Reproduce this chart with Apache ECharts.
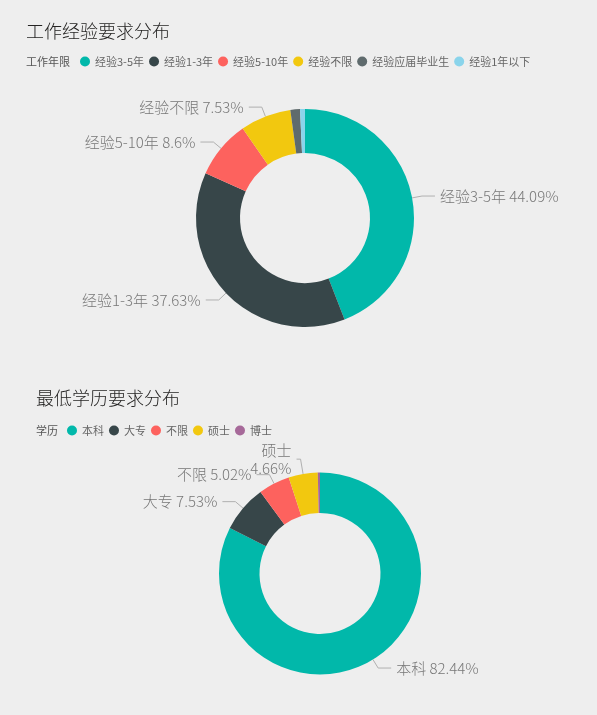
<!DOCTYPE html>
<html>
<head>
<meta charset="utf-8">
<script src="https://cdn.jsdelivr.net/npm/echarts@6/dist/echarts.min.js"></script>
<style>
html,body{margin:0;padding:0;background:#eeeeee;}
#main{width:597px;height:715px;}
</style>
</head>
<body>
<div id="main"></div>
<script>
const expNames = ['经验3-5年', '经验1-3年', '经验5-10年', '经验不限', '经验应届毕业生', '经验1年以下'];
const expValues = [44.09, 37.63, 8.6, 7.53, 1.42, 0.73];
const expColors = ['#01B8AA', '#374649', '#FD625E', '#F2C80F', '#5F6B6D', '#8AD4EB'];
const expNoLabel = ['经验应届毕业生', '经验1年以下'];

const eduNames = ['本科', '大专', '不限', '硕士', '博士'];
const eduValues = [82.44, 7.53, 5.02, 4.66, 0.35];
const eduColors = ['#01B8AA', '#374649', '#FD625E', '#F2C80F', '#A66999'];
const eduNoLabel = ['博士'];
const eduWrapLabel = ['硕士'];

const FONT = '"Noto Sans CJK SC", "Noto Sans", sans-serif';

function buildData(names, values, colors, noLabel, wrap) {
  return names.map((n, i) => {
    const d = { name: n, value: values[i], itemStyle: { color: colors[i] } };
    if (noLabel.indexOf(n) >= 0) {
      d.label = { show: false };
      d.labelLine = { show: false };
    }
    if (wrap && wrap.indexOf(n) >= 0) {
      d.label = { show: true, lineHeight: 18 };
      d.labelLine = { show: true, length: 15, length2: 4 };
    }
    return d;
  });
}

function makeLabel(wrap) {
  return {
    show: true,
    formatter: p => p.name + ((wrap && wrap.indexOf(p.name) >= 0) ? '\n' : ' ') + p.value + '%',
    fontFamily: FONT,
    fontSize: 15,
    fontWeight: 300,
    color: '#777777',
    distanceToLabelLine: 5
  };
}
const labelLineStyle = {
  show: true,
  length: 10,
  length2: 13,
  smooth: false,
  lineStyle: { color: '#b0b0b0', width: 1 }
};

const chart = echarts.init(document.getElementById('main'), null, { renderer: 'canvas' });
chart.setOption({
  backgroundColor: '#eeeeee',
  animation: false,
  title: [
    { text: '工作经验要求分布', left: 26, top: 22, padding: 0,
      textStyle: { fontFamily: FONT, fontSize: 18, fontWeight: 300, color: '#252423' } },
    { text: '工作年限', left: 26, top: 56, padding: 0,
      textStyle: { fontFamily: FONT, fontSize: 11, fontWeight: 'normal', color: '#555' } },
    { text: '最低学历要求分布', left: 36, top: 389, padding: 0,
      textStyle: { fontFamily: FONT, fontSize: 18, fontWeight: 300, color: '#252423' } },
    { text: '学历', left: 36, top: 425, padding: 0,
      textStyle: { fontFamily: FONT, fontSize: 11, fontWeight: 'normal', color: '#555' } }
  ],
  legend: [
    { data: expNames, left: 80, top: 56, padding: 0, icon: 'circle', itemWidth: 10, itemHeight: 10,
      itemGap: 5, selectedMode: false,
      textStyle: { fontFamily: FONT, fontSize: 11, color: '#666' } },
    { data: eduNames, left: 67, top: 425, padding: 0, icon: 'circle', itemWidth: 10, itemHeight: 10,
      itemGap: 5, selectedMode: false,
      textStyle: { fontFamily: FONT, fontSize: 11, color: '#666' } }
  ],
  series: [
    {
      type: 'pie',
      center: [305, 218],
      radius: [65, 109],
      startAngle: 90,
      clockwise: true,
      avoidLabelOverlap: false,
      labelLayout: { hideOverlap: false },
      emphasis: { disabled: true },
      label: makeLabel(null),
      labelLine: labelLineStyle,
      data: buildData(expNames, expValues, expColors, expNoLabel, null)
    },
    {
      type: 'pie',
      center: [320, 573.5],
      radius: [60.5, 101],
      startAngle: 90,
      clockwise: true,
      avoidLabelOverlap: false,
      labelLayout: { hideOverlap: false },
      emphasis: { disabled: true },
      label: makeLabel(eduWrapLabel),
      labelLine: labelLineStyle,
      data: buildData(eduNames, eduValues, eduColors, eduNoLabel, eduWrapLabel)
    }
  ]
});
</script>
</body>
</html>
